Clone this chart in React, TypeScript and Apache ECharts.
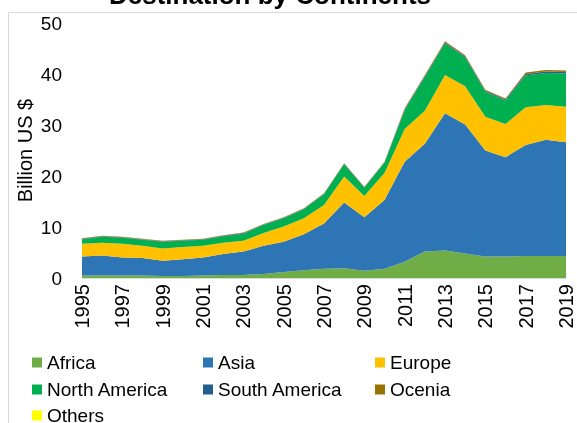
import React, { useEffect, useRef } from "react";
import * as echarts from "echarts";

const years = ["1995","1996","1997","1998","1999","2000","2001","2002","2003","2004","2005","2006","2007","2008","2009","2010","2011","2012","2013","2014","2015","2016","2017","2018","2019"];
const africa = [0.5,0.5,0.5,0.5,0.4,0.4,0.5,0.6,0.6,0.8,1.2,1.5,1.8,1.9,1.4,1.8,3.2,5.2,5.4,4.8,4.2,4.2,4.3,4.3,4.3];
const asia = [3.7,3.9,3.5,3.4,3.0,3.3,3.5,4.1,4.6,5.5,5.9,7.1,8.9,12.9,10.5,13.5,19.6,21.1,26.9,25.3,20.8,19.5,21.8,22.8,22.3];
const europe = [2.5,2.5,2.7,2.4,2.4,2.4,2.3,2.2,2.1,2.5,3.0,3.1,3.6,5.1,4.2,5.3,6.4,6.5,7.5,7.5,6.6,6.5,7.4,6.8,7.0];
const northAmerica = [0.9,1.2,1.2,1.2,1.3,1.2,1.2,1.3,1.4,1.6,1.6,1.8,2.1,2.4,1.6,2.0,3.7,6.6,6.2,5.7,4.9,4.6,6.2,6.3,6.5];
const southAmerica = [0.1,0.1,0.1,0.1,0.1,0.1,0.1,0.1,0.1,0.1,0.1,0.1,0.1,0.1,0.1,0.1,0.2,0.2,0.2,0.2,0.2,0.2,0.3,0.3,0.3];
const oceania = [0.1,0.1,0.1,0.1,0.1,0.1,0.1,0.1,0.1,0.1,0.1,0.1,0.1,0.1,0.1,0.1,0.2,0.2,0.2,0.2,0.2,0.2,0.3,0.3,0.3];
const others = [0,0,0,0,0,0,0,0,0,0,0,0,0,0,0,0,0,0,0,0,0,0,0,0,0];

const seriesNames = ["Africa","Asia","Europe","North America","South America","Ocenia","Others"];
const seriesData = [africa, asia, europe, northAmerica, southAmerica, oceania, others];
const seriesColors = ["#70AD47","#2E75B6","#FFC000","#00B050","#255E91","#997300","#FFFF00"];

const legendRows = [
  ["Africa", "Asia", "Europe"],
  ["North America", "South America", "Ocenia"],
  ["Others"],
];

const FONT = "'Liberation Sans', Arial, sans-serif";

export default function App() {
  const ref = useRef<HTMLDivElement>(null);
  useEffect(() => {
    if (!ref.current) return;
    const chart = echarts.init(ref.current, null, { renderer: "svg" });
    const colLefts = [27, 198, 370];
    const rowTops = [348, 375, 401];
    const legends: any[] = [];
    legendRows.forEach((row, r) => {
      row.forEach((name, c) => {
        legends.push({
          orient: "horizontal",
          icon: "rect",
          itemWidth: 10,
          itemHeight: 10,
          left: colLefts[c],
          top: rowTops[r],
          data: [name],
          textStyle: { fontFamily: FONT, fontSize: 19, color: "#000" },
        });
      });
    });
    chart.setOption({
      animation: false,
      textStyle: { fontFamily: FONT },
      color: seriesColors,
      grid: { left: 82, right: 11, top: 23, bottom: 145, containLabel: false },
      graphic: [
        {
          type: "rect",
          shape: { x: 8.5, y: 12.5, width: 700, height: 600 },
          style: { fill: "none", stroke: "#d9d9d9", lineWidth: 1 },
          silent: true,
          z: -10,
        },
        {
          type: "text",
          x: 270,
          y: -5,
          style: {
            text: "Destination by Continents",
            font: `bold 26px ${FONT}`,
            fill: "#000",
            align: "center",
            verticalAlign: "middle",
          },
        },
      ],
      legend: legends,
      xAxis: {
        type: "category",
        data: years,
        boundaryGap: false,
        axisLine: { show: true, lineStyle: { color: "#d9d9d9", width: 1 } },
        axisTick: { show: false },
        axisLabel: {
          interval: 1,
          rotate: 90,
          margin: 6,
          fontSize: 20,
          color: "#000",
          fontFamily: FONT,
        },
        splitLine: { show: false },
      },
      yAxis: {
        type: "value",
        min: 0,
        max: 50,
        interval: 10,
        name: "Billion US $",
        nameLocation: "middle",
        nameGap: 47,
        nameMoveOverlap: false,
        nameTextStyle: { fontSize: 20, color: "#000", fontFamily: FONT },
        axisLine: { show: false },
        axisTick: { show: false },
        splitLine: { show: false },
        axisLabel: { fontSize: 19, color: "#000", margin: 20, fontFamily: FONT },
      },
      series: seriesNames.map((name, i) => ({
        name,
        type: "line",
        stack: "total",
        data: seriesData[i],
        showSymbol: false,
        symbol: "none",
        lineStyle: { width: 0, color: seriesColors[i] },
        itemStyle: { color: seriesColors[i] },
        areaStyle: { color: seriesColors[i], opacity: 1 },
      })),
    });
    return () => chart.dispose();
  }, []);
  return (
    <div
      ref={ref}
      style={{ position: "fixed", left: 0, top: 0, width: 577, height: 423 }}
    />
  );
}
